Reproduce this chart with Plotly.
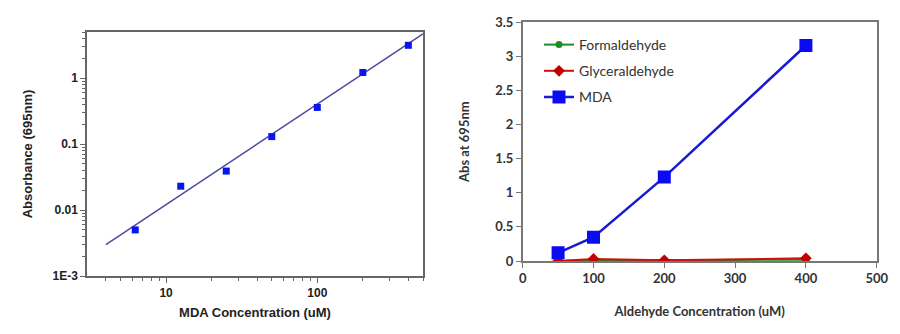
import plotly.graph_objects as go

# Left panel: MDA standard curve (log-log)
std_conc = [6.25, 12.5, 25, 50, 100, 200, 400]
std_abs = [0.005, 0.023, 0.039, 0.13, 0.36, 1.22, 3.15]
fit_conc = [4, 500]
fit_abs = [0.003, 4.7]

# Right panel: aldehyde specificity
ald_conc = [50, 100, 200, 400]
formaldehyde = [0.0, 0.01, 0.01, 0.02]
glyceraldehyde = [0.0, 0.03, 0.01, 0.04]
mda = [0.12, 0.35, 1.23, 3.16]

W, H = 900, 334
fig = go.Figure()

fig.add_trace(go.Scatter(x=fit_conc, y=fit_abs, mode="lines",
                         line=dict(color="#4a4a9e", width=1.5),
                         xaxis="x", yaxis="y", showlegend=False))
fig.add_trace(go.Scatter(x=std_conc, y=std_abs, mode="markers",
                         marker=dict(symbol="square", color="#0a14f0", size=7),
                         xaxis="x", yaxis="y", showlegend=False))

fig.add_trace(go.Scatter(x=ald_conc, y=formaldehyde, mode="lines+markers", name="Formaldehyde",
                         legendgroup="f",
                         line=dict(color="#1e8c1e", width=2),
                         marker=dict(symbol="circle", size=7, color="#1e8c1e"),
                         xaxis="x2", yaxis="y2"))
fig.add_trace(go.Scatter(x=ald_conc, y=glyceraldehyde, mode="lines+markers", name="Glyceraldehyde",
                         legendgroup="g",
                         line=dict(color="#d01010", width=2),
                         marker=dict(symbol="diamond", size=9, color="#c00000"),
                         xaxis="x2", yaxis="y2"))
fig.add_trace(go.Scatter(x=ald_conc, y=mda, mode="lines+markers", name="MDA",
                         legendgroup="m",
                         line=dict(color="#1a1ad0", width=2.5),
                         marker=dict(symbol="square", size=13, color="#0a0af5"),
                         xaxis="x2", yaxis="y2"))

axcol = "#666666"
arial = "Liberation Sans"
calib = "Lato"

fig.update_layout(
    width=W, height=H, margin=dict(l=0, r=0, t=0, b=0),
    paper_bgcolor="white", plot_bgcolor="white",
    showlegend=True,
    legend=dict(x=539/W, y=1-29/H, xanchor="left", yanchor="top",
                traceorder="grouped", tracegroupgap=5,
                bgcolor="rgba(0,0,0,0)", font=dict(family=calib, size=14, color="#333333"),
                itemwidth=30),
    xaxis=dict(type="log", domain=[87/W, 423/W], range=[0.477, 2.699],
               anchor="y", showgrid=False, zeroline=False, automargin=False,
               showline=True, linecolor=axcol, linewidth=1.5, mirror=True,
               ticks="outside", ticklen=5, tickcolor=axcol,
               tickvals=[10, 100], ticktext=["10", "100"],
               minor=dict(ticks="outside", ticklen=3, tickcolor=axcol,
                          tickvals=[4, 5, 6, 7, 8, 9, 20, 30, 40, 50, 60, 70, 80, 90, 200, 300, 400, 500]),
               tickfont=dict(family=arial, size=12, color="#222222", weight="bold"),
               title=dict(text="MDA Concentration (uM)", standoff=9,
                          font=dict(family=arial, size=13, color="#222222", weight="bold"))),
    yaxis=dict(type="log", domain=[1-276/H, 1-32/H], range=[-3, 0.7],
               anchor="x", showgrid=False, zeroline=False, automargin=False,
               showline=True, linecolor=axcol, linewidth=1.5, mirror=True,
               ticks="outside", ticklen=5, tickcolor=axcol,
               tickvals=[0.001, 0.01, 0.1, 1], ticktext=["1E-3", "0.01", "0.1", "1"],
               minor=dict(ticks="outside", ticklen=3, tickcolor=axcol,
                          tickvals=[0.002, 0.003, 0.004, 0.005, 0.006, 0.007, 0.008, 0.009,
                                    0.02, 0.03, 0.04, 0.05, 0.06, 0.07, 0.08, 0.09,
                                    0.2, 0.3, 0.4, 0.5, 0.6, 0.7, 0.8, 0.9,
                                    2, 3, 4, 5]),
               tickfont=dict(family=arial, size=12, color="#222222", weight="bold"),
               title=dict(text="Absorbance (695nm)", standoff=17,
                          font=dict(family=arial, size=13, color="#222222", weight="bold"))),
    xaxis2=dict(domain=[522.7/W, 876.7/W], range=[0, 500], anchor="y2",
                showgrid=False, zeroline=False, automargin=False,
                showline=True, linecolor="#777777", linewidth=1.5, mirror=True,
                ticks="outside", ticklen=5, tickcolor="#777777",
                tickvals=[0, 100, 200, 300, 400, 500],
                tickfont=dict(family=calib, size=13, color="#333333", weight="bold"),
                title=dict(text="Aldehyde Concentration (uM)", standoff=22,
                           font=dict(family=calib, size=13, color="#333333", weight="bold"))),
    yaxis2=dict(domain=[1-261/H, 1-22.3/H], range=[0, 3.5], anchor="x2",
                showgrid=False, zeroline=False, automargin=False,
                showline=True, linecolor="#777777", linewidth=1.5, mirror=True,
                ticks="outside", ticklen=5, tickcolor="#777777",
                tickvals=[0, 0.5, 1, 1.5, 2, 2.5, 3, 3.5],
                ticktext=["0", "0.5", "1", "1.5", "2", "2.5", "3", "3.5"],
                tickfont=dict(family=calib, size=13, color="#333333", weight="bold"),
                title=dict(text="Abs at 695nm", standoff=23,
                           font=dict(family=calib, size=13, color="#333333", weight="bold"))),
)

fig.write_html("out.html")
